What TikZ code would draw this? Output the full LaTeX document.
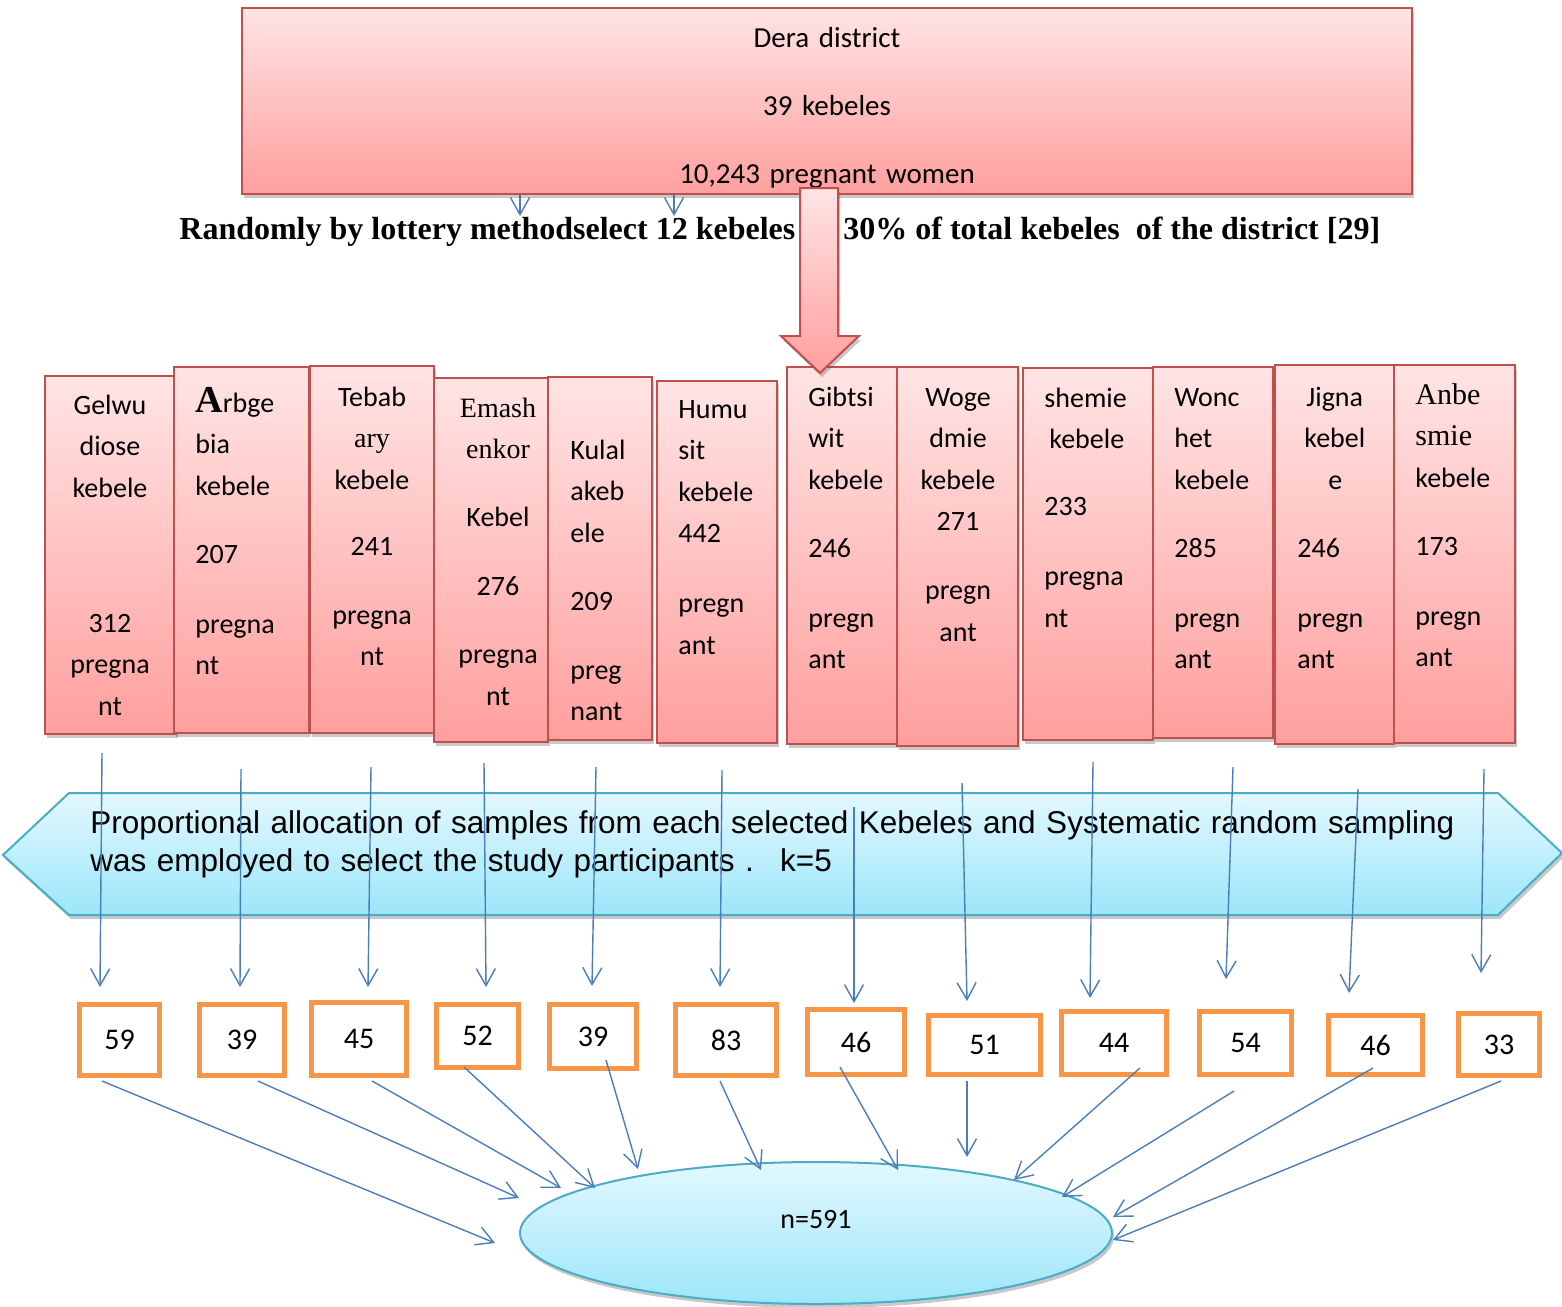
\documentclass[tikz,border=0pt]{standalone}
\usepackage{fontspec}
\setmainfont{Carlito}
\newfontfamily\tnr{Liberation Serif}
\newfontfamily\arial{Liberation Sans}
\usepackage{tikz}
\usetikzlibrary{arrows.meta,shapes.geometric,shadows,positioning}

\definecolor{pinktop}{HTML}{FFE4E4}
\definecolor{pinkbot}{HTML}{FF9F9E}
\definecolor{pinkline}{HTML}{C0504D}
\definecolor{cyantop}{HTML}{E3F8FE}
\definecolor{cyanbot}{HTML}{9CE6FA}
\definecolor{cyanline}{HTML}{4BACC6}
\definecolor{sampleline}{HTML}{F79646}
\definecolor{arrowblue}{HTML}{4A7EBB}

\begin{document}
\begin{tikzpicture}[x=0.5pt,y=-0.5pt,
  flow/.style={draw=arrowblue,line width=0.7pt,-{Straight Barb[length=8.5pt,width=9.5pt]}},
  softshadow/.style={drop shadow={shadow xshift=1pt,shadow yshift=-2pt,opacity=0.3,fill=black!70}},
  pinkbox/.style={rectangle,draw=pinkline,line width=1pt,top color=pinktop,bottom color=pinkbot,softshadow,inner sep=0pt},
  cyanbox/.style={draw=cyanline,line width=1pt,top color=cyantop,bottom color=cyanbot,softshadow},
  kebtext/.style={inner sep=0pt,text width=62pt,font=\fontsize{14}{20.75}\selectfont},
  sample/.style={rectangle,draw=sampleline,line width=2.5pt,fill=white,inner sep=0pt,font=\fontsize{15}{18}\selectfont}]

  \useasboundingbox (0,0) rectangle (1562,1306);

  % small arrow tips under the district box
  \coordinate (e1) at (520,190); \coordinate (f1) at (520,216);
  \coordinate (e2) at (674,190); \coordinate (f2) at (674,216);
  \draw[flow] (e1) -- (f1);
  \draw[flow] (e2) -- (f2);

  % district box
  \node[pinkbox,minimum width=585pt,minimum height=93pt] (dist) at (827,101) {};
  \node[inner sep=0pt,text width=300pt,align=center,anchor=base,font=\fontsize{14.5}{34}\selectfont] (distt) at (827,47)
    {Dera district\\39 kebeles\\10,243 pregnant women};

  \node[inner sep=0pt,anchor=base west,font=\tnr\bfseries\fontsize{16}{19}\selectfont] (rnd) at (179,239)
    {Randomly by lottery methodselect 12 kebeles};
  \node[inner sep=0pt,anchor=base west,font=\tnr\bfseries\fontsize{16}{19}\selectfont] (pct) at (843,239)
    {30\% of total kebeles~ of the district [29]};

  % selected kebeles
  \foreach \i/\xa/\ya/\xb/\yb in {1/45/376/176/734, 2/174/367/309/733, 3/310/366/434/733,
      4/434/378/548/742, 5/548/377/652/740, 6/657/381/777/743, 7/787/367/897/744,
      8/897/367/1018/746, 9/1023/368/1153/740, 10/1153/367/1273/738,
      11/1275/365/1394/744, 12/1394/365/1515/743}
    \node[pinkbox,minimum width={(\xb-\xa)*0.5pt},minimum height={(\yb-\ya)*0.5pt}]
      (k\i) at ({(\xa+\xb)/2},{(\ya+\yb)/2}) {};

  \node[kebtext,align=center,anchor=base] (t1) at (110,414)
    {Gelwu\\diose\\kebele\\[46.75pt]312\\pregna\\nt};
  \node[kebtext,align=left,anchor=base west] (t2) at (195,412)
    {{\tnr\bfseries\fontsize{19}{20.75}\selectfont A}rbge\\bia\\kebele\\[13.25pt]207\\[14.25pt]pregna\\nt};
  \node[kebtext,align=center,anchor=base] (t3) at (372,406)
    {Tebab\\{\tnr ary}\\kebele\\[12.25pt]241\\[13.75pt]pregna\\nt};
  \node[kebtext,align=center,anchor=base] (t4) at (498,417)
    {{\tnr Emash}\\{\tnr enkor}\\[13.25pt]Kebel\\[13.75pt]276\\[13.25pt]pregna\\nt};
  \node[kebtext,align=left,anchor=base west] (t5) at (570,459)
    {Kulal\\akeb\\ele\\[13.25pt]209\\[13.75pt]preg\\nant};
  \node[kebtext,align=left,anchor=base west] (t6) at (678,418)
    {Humu\\sit\\kebele\\442\\[14.25pt]pregn\\ant};
  \node[kebtext,align=left,anchor=base west] (t7) at (808,406)
    {Gibtsi\\wit\\kebele\\[13.25pt]246\\[14.25pt]pregn\\ant};
  \node[kebtext,align=center,anchor=base] (t8) at (958,406)
    {Woge\\dmie\\kebele\\271\\[13.75pt]pregn\\ant};
  \node[kebtext,align=left,anchor=base west] (t9) at (1044,407)
    {shemie\\\hspace*{2.5pt}kebele\\[12.75pt]233\\[14.25pt]pregna\\nt};
  \node[kebtext,align=left,anchor=base west] (t10) at (1174,406)
    {Wonc\\het\\kebele\\[13.25pt]285\\[14.25pt]pregn\\ant};
  \node[kebtext,align=left,anchor=base west] (t11) at (1297,406)
    {\hspace*{4.5pt}Jigna\\\hspace*{3.5pt}kebel\\\hspace*{15.5pt}e\\[13.25pt]246\\[14.25pt]pregn\\ant};
  \node[kebtext,align=left,anchor=base west] (t12) at (1415,404)
    {{\tnr\fontsize{15}{20.75}\selectfont Anbe}\\{\tnr\fontsize{15}{20.75}\selectfont smie}\\kebele\\[13.25pt]173\\[14.25pt]pregn\\ant};

  % arrow from district to kebeles
  \path[draw=pinkline,line width=1pt,top color=pinktop,bottom color=pinkbot,softshadow]
    (800,188) -- (838,188) -- (838,336) -- (859,336) -- (820,373) -- (781,336) -- (800,336) -- cycle;

  % allocation banner
  \path[cyanbox] (3,855) -- (69,793) -- (1498,793) -- (1562,853) -- (1498,915) -- (69,915) -- cycle;
  \node[inner sep=0pt,anchor=base west,text width=720pt,align=left,
        font=\arial\fontsize{15.75}{19}\selectfont] (alloc) at (90,833)
    {Proportional allocation of samples from each selected Kebeles and Systematic random sampling\\
     was employed to select the study participants .~ k=5};

  % kebeles to samples
  \foreach \i/\xa/\ya/\xb/\yb in {1/102/753/100/987, 2/241/769/240/987, 3/371/767/368/987,
      4/484/763/486/987, 5/596/767/592/986, 6/722/770/720/987, 7/854/807/854/1003,
      8/962/783/967/1001, 9/1093/762/1090/998, 10/1233/767/1226/979,
      11/1358/789/1349/993, 12/1484/769/1481/973}
  {
    \coordinate (a\i) at (\xa,\ya);
    \coordinate (b\i) at (\xb,\yb);
    \draw[flow] (a\i) -- (b\i);
  }

  % sample sizes
  \foreach \i/\xa/\ya/\xb/\yb/\val in {1/77/1002/162/1078/59, 2/197/1002/287/1078/39,
      3/309/1000/409/1078/45, 4/434/1002/521/1070/52, 5/547/1002/639/1071/39,
      6/673/1002/779/1078/83, 7/805/1007/907/1077/46, 8/926/1013/1043/1077/51,
      9/1059/1009/1169/1077/{44\hspace{17pt}}, 10/1197/1009/1294/1077/54,
      11/1326/1013/1425/1077/46, 12/1456/1011/1542/1078/33}
    \node[sample,minimum width={(\xb-\xa-5)*0.5pt},minimum height={(\yb-\ya-5)*0.5pt}]
      (s\i) at ({(\xa+\xb)/2},{(\ya+\yb)/2}) {\val};

  % total sample
  \node[ellipse,cyanbox,minimum width=296pt,minimum height=71pt] (total) at (816,1233) {};
  \node[inner sep=0pt,font=\fontsize{14}{17}\selectfont] (n) at (816,1219) {n=591};

  % samples to total
  \foreach \i/\xa/\ya/\xb/\yb in {1/102/1081/495/1243, 2/258/1081/519/1198, 3/372/1081/561/1188,
      4/464/1067/595/1188, 5/606/1060/638/1169, 6/720/1081/761/1170, 7/840/1067/898/1170,
      8/967/1081/967/1157, 9/1140/1068/1014/1180, 10/1234/1091/1062/1197,
      11/1373/1068/1113/1217, 12/1501/1081/1113/1240}
  {
    \coordinate (c\i) at (\xa,\ya);
    \coordinate (d\i) at (\xb,\yb);
    \draw[flow] (c\i) -- (d\i);
  }
\end{tikzpicture}
\end{document}
